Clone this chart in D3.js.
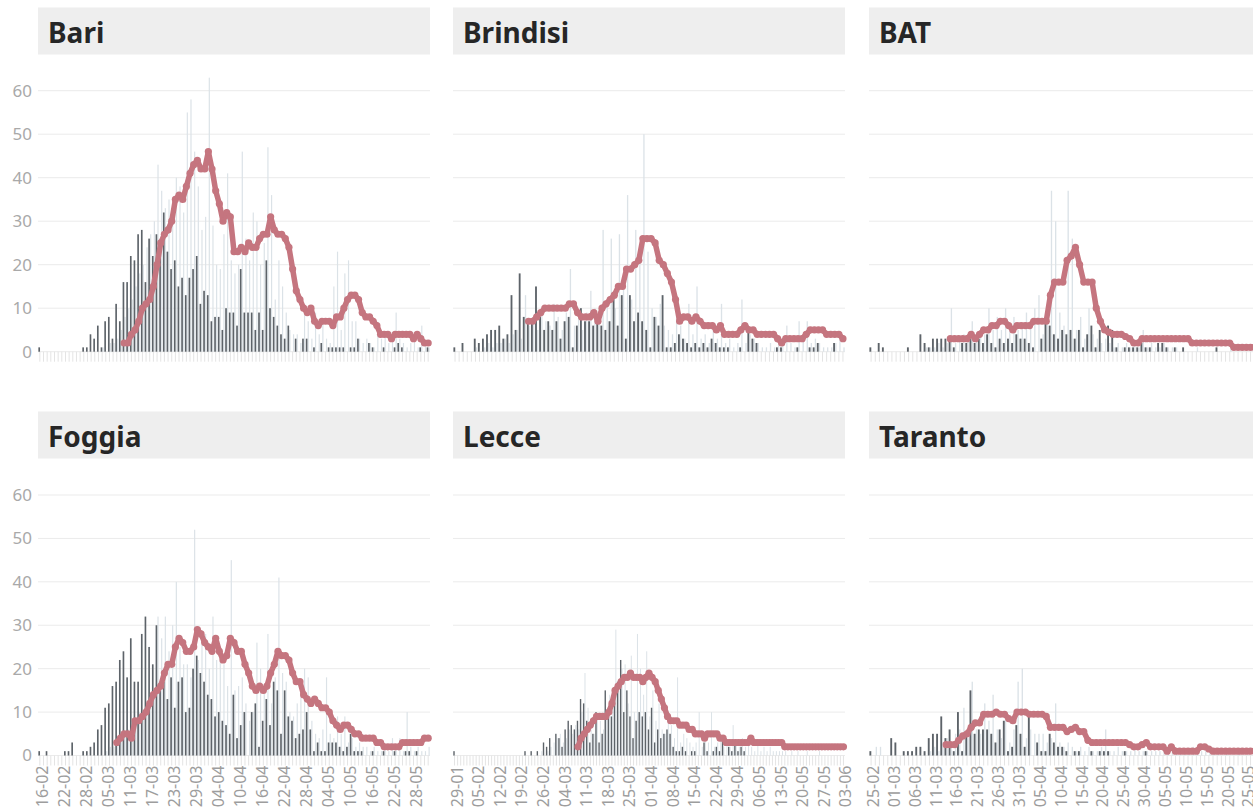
<!DOCTYPE html>
<html><head><meta charset="utf-8">
<script src="https://cdn.jsdelivr.net/npm/d3@7"></script>
<style>
html,body{margin:0;padding:0;background:#fff;overflow:hidden}
svg{display:block}
</style></head><body>
<svg id="chart" width="1253" height="812"></svg>
<script>
// ---------------- DATA ----------------
const provinces = ["Bari","Brindisi","BAT","Foggia","Lecce","Taranto"];
const firstDays = ["2020-02-16","2020-02-29","2020-02-25","2020-02-16","2020-01-29","2020-02-25"];
const lastDays  = ["2020-06-01","2020-06-03","2020-05-28","2020-06-01","2020-06-03","2020-05-28"];
const avgFirstDays = ["2020-03-10","2020-03-18","2020-03-15","2020-03-08","2020-03-09","2020-03-14"];
const labelEvery = [6,6,5,6,7,5];
const yTicks = [0,10,20,30,40,50,60];

const bariDark = [1,0,0,0,0,0,0,0,0,0, 0,0,1,1,4,3,6,1,7,8, 3,11,7,16,16,22,21,27,28,16, 26,22,27,25,32,23,19,21,15,17, 13,17,19,22,11,14,13,7,8,8, 5,10,9,9,6,19,9,9,9,5, 9,5,21,10,8,6,4,3,6,0, 3,0,3,3,0,1,0,2,0,1, 1,1,1,1,0,1,1,3,0,0, 2,1,0,0,1,0,0,1,2,1, 0,0,0,0,1,0,1];
const bariLight = [0,0,0,0,0,0,0,0,0,0, 0,0,0,0,0,0,0,1,0,2, 2,3,5,8,10,12,15,18,20,24, 27,30,43,37,33,35,30,40,38,32, 55,58,46,38,28,31,63,29,20,19, 27,41,21,18,20,46,26,21,32,30, 20,25,47,36,12,21,15,9,5,4, 4,2,10,7,3,9,4,7,3,2, 15,23,5,18,21,7,7,3,2,3, 2,1,6,3,4,2,3,9,3,2, 1,2,3,1,6,2,1];
const bariAvg = [2,2,4,5,7,10,11,12,15,20, 25,27,28,30,35,36,35,38,41,43, 44,42,42,46,42,37,34,30,32,31, 23,23,24,23,25,24,24,26,27,27, 31,28,27,27,26,24,19,14,12,10, 9,10,7,6,7,7,7,6,8,8, 10,12,13,13,12,9,8,8,7,6, 4,4,4,3,4,4,4,4,4,3, 4,3,2,2];

const brindisiDark = [1,0,2,0,0,3,2,3,4,5, 5,6,3,4,13,5,18,8,7,7, 15,8,5,7,5,7,3,7,8,1, 6,10,7,7,6,7,6,5,7,13, 6,13,3,13,7,9,7,5,1,8, 6,13,1,1,2,4,3,2,1,2, 1,2,1,3,2,1,1,1,0,0, 1,0,5,3,2,0,0,0,0,1, 1,0,0,0,1,0,0,1,1,2, 0,0,0,2,0,0];
const brindisiLight = [0,0,0,0,0,1,0,1,2,1, 2,2,3,2,4,5,3,13,6,8, 5,10,7,6,11,8,5,9,19,6, 8,5,9,14,10,8,28,12,26,10, 27,15,36,12,28,22,50,23,10,8, 11,6,5,4,12,6,3,11,4,15, 3,4,2,5,3,11,2,3,1,2, 12,2,4,3,2,1,1,2,1,3, 2,6,2,1,7,3,7,2,3,2, 1,1,1,2,3,1];
const brindisiAvg = [7,7,8,9,10,10,10,10,10,10, 11,11,9,8,8,8,9,7,10,11, 12,13,15,15,19,19,20,21,26,26, 26,25,21,20,18,16,12,7,8,8, 7,8,7,6,6,6,5,6,4,4, 4,4,5,6,5,5,4,4,4,4, 4,3,2,3,3,3,3,3,4,5, 5,5,5,4,4,4,4,3];

const batDark = [1,0,2,1,0,0,0,0,0,1, 0,0,4,2,1,3,3,3,3,3, 1,0,2,2,3,2,3,2,4,2, 1,3,2,3,2,4,3,3,2,1, 0,3,7,6,4,3,5,4,5,3, 5,1,4,6,1,5,0,6,5,1, 0,1,1,1,1,2,1,1,0,2, 2,1,0,1,0,1,0,0,0,0, 0,0,0,1,0,0,0,0,0,0, 0,0,0,0];
const batLight = [0,0,0,0,0,0,0,0,0,0, 0,0,0,1,1,1,2,1,2,10, 2,3,4,3,7,3,5,4,10,5, 8,5,10,6,8,5,6,9,7,10, 13,4,8,37,30,9,6,37,26,5, 8,3,10,4,3,2,3,2,1,2, 1,2,1,2,1,5,1,2,1,1, 2,1,1,1,0,0,0,0,1,0, 0,0,0,0,0,0,1,0,0,0, 0,0,0,0];
const batAvg = [3,3,3,3,3,4,3,4,5,5, 6,6,7,7,6,5,6,6,6,6, 7,7,7,7,13,16,16,16,21,22, 24,20,16,16,16,10,7,5,4.5,4, 4,4,3.5,3,2,2,3,3,3,3, 3,3,3,3,3,3,3,3,2,2, 2,2,2,2,2,2,2,2,1,1, 1,1,1,1,1];

const foggiaDark = [1,0,1,0,0,0,0,1,1,3, 0,0,1,1,2,3,6,7,11,12, 16,17,22,24,18,27,17,17,28,32, 25,21,30,15,17,13,18,11,17,18, 10,11,20,23,19,17,14,13,9,10, 8,7,5,14,4,7,10,0,10,12, 2,8,13,7,17,15,5,15,9,8, 4,5,6,10,6,1,3,1,1,3, 3,3,2,1,2,5,1,1,1,0, 0,1,0,0,1,0,0,1,0,0, 1,1,0,1,0,0,0];
const foggiaLight = [0,0,0,0,0,0,0,0,0,0, 0,0,0,0,0,0,0,0,1,2, 2,3,4,5,6,8,7,10,9,12, 14,15,32,27,32,24,30,40,25,21, 21,18,52,22,26,28,20,32,22,23, 21,16,45,15,16,18,12,8,10,26, 20,15,28,12,18,41,19,17,10,9, 12,16,20,18,8,5,4,6,18,5, 4,9,5,9,3,4,2,3,2,2, 1,2,1,1,2,1,4,2,4,1, 10,2,1,2,1,1,2];
const foggiaAvg = [3,4,5,5,4,8,8,9,10,12, 14,15,16,19,21,21,25,27,26,24, 24,25,29,28,26,25,24,27,24,22, 23,27,26,24,24,21,19,16,15,16, 15,16,19,21,24,23,23,22,19,17, 17,14,13,12,13,12,11,11,10,8, 7,6,7,7,6,5,5,4,4,4, 4,3,3,2,2,2,2,2,3,3, 3,3,3,3,4,4];

const lecceDark = [1,0,0,0,0,0,0,0,0,0, 0,0,0,0,0,0,0,0,0,0, 0,0,0,1,0,1,0,1,0,3, 2,4,0,5,4,2,6,8,7,6, 8,13,12,8,3,5,10,3,5,15, 11,9,13,17,22,10,15,9,4,8, 10,9,10,6,11,3,6,4,5,6, 5,2,1,1,2,1,0,1,1,0, 0,3,1,0,1,2,1,4,0,2, 1,3,1,2,1,0,0,0,0,0, 0,0,0,0,0,0,0,0,0,0, 0,0,0,0,0,0,0,0,0,0, 0,0,0,0,0,0,0];
const lecceLight = [0,0,0,0,0,0,0,0,0,0, 0,0,0,0,0,0,0,0,0,0, 0,0,0,0,0,0,0,0,1,0, 1,2,3,4,5,3,4,6,5,7, 6,10,19,11,6,5,9,8,6,10, 14,12,29,15,20,21,12,23,10,28, 20,14,24,9,15,8,12,6,5,10, 7,4,18,3,5,4,3,2,3,10, 2,4,3,10,2,3,4,2,3,2, 7,3,2,4,2,3,2,1,3,1, 2,1,2,1,1,1,1,1,0,1, 0,1,0,0,1,0,0,0,1,0, 0,0,0,0,0,0,0];
const lecceAvg = [2,4,5,6,7,8,9,9,9,9, 10,12,15,16,17,18,18,19,18,18, 18,17,18,19,18,17,15,13,11,9, 8,8,8,7,7,7,6,6,5,5, 5,4,5,5,5,5,4,4,3,3, 3,3,3,3,3,3,4,3,3,3, 3,3,3,3,3,3,3,2,2,2, 2,2,2,2,2,2,2,2,2,2, 2,2,2,2,2,2,2];

const tarantoDark = [1,0,0,0,0,4,3,0,1,1, 1,2,2,1,4,5,5,9,4,6, 1,10,1,5,15,5,6,6,6,5, 3,6,8,1,2,7,5,2,9,0, 3,1,1,5,3,2,2,1,0,1, 1,0,0,1,0,1,1,1,0,0, 0,1,0,0,0,0,1,0,0,0, 0,0,0,0,0,0,0,0,0,0, 0,0,0,0,0,0,0,0,0,0, 0,0,0,0];
const tarantoLight = [0,2,2,0,0,0,0,0,0,0, 0,0,0,0,1,2,1,3,4,2, 5,6,11,4,17,6,5,12,8,14, 6,4,9,3,6,17,20,4,6,5, 5,5,3,4,12,3,2,3,2,1, 2,1,2,1,1,2,6,1,1,2, 1,1,1,2,1,1,1,1,1,1, 2,1,1,1,1,1,1,2,1,1, 1,1,1,1,0,1,0,0,1,0, 0,0,0,0];
const tarantoAvg = [2.5,2.5,2.5,3.5,4.5,5,6.5,7.5,7.5,9.5, 9.5,9.5,10,9.5,9.5,8.5,8,10,10,10, 9.5,9.5,9.5,9.5,9,6.5,6.5,6.5,6.5,5.5, 6,6.5,5.5,5.5,3.5,3,3,3,3,3, 3,3,3,3,2.5,2,2,2.5,3,2, 2,2,2,1,2,1,1,1,1,1, 1,2,2,1.5,1,1,1,1,1,1, 1,1,1,1,1,1];

const darkSeries  = [bariDark, brindisiDark, batDark, foggiaDark, lecceDark, tarantoDark];
const lightSeries = [bariLight, brindisiLight, batLight, foggiaLight, lecceLight, tarantoLight];
const avgSeries   = [bariAvg, brindisiAvg, batAvg, foggiaAvg, lecceAvg, tarantoAvg];

// ---------------- LAYOUT / STYLE ----------------
const COLORS = {title:"#eeeeee", titleText:"#262626", grid:"#ebebeb", yText:"#a9a9a9",
  tick:"#e4e4e4", xText:"#9d9d9d", dark:"#5d6369", light:"#dbe2e7", line:"#c5757f"};
const colRanges = [[38,430],[453,845],[869,1261]];
const rowGeo = [
  {titleTop:7.5, titleH:47, base:43, y0:351.7, y60:90.7},
  {titleTop:411.5, titleH:47, base:446.5, y0:755.5, y60:495}
];

const svg = d3.select("#chart");
const parse = d3.utcParse("%Y-%m-%d");
const fmt = d3.utcFormat("%d-%m");
const FONT = "'Noto Sans', 'Open Sans', sans-serif";

provinces.forEach((name, k) => {
  const col = k % 3, row = Math.floor(k / 3);
  const [x0, x1] = colRanges[col];
  const g = rowGeo[row];
  const start = parse(firstDays[k]);
  const days = d3.utcDay.range(start, d3.utcDay.offset(parse(lastDays[k]), 1));
  const keys = days.map(fmt);
  const x = d3.scaleBand().domain(keys).range([x0, x1]);
  const y = d3.scaleLinear().domain([0, 60]).range([g.y0, g.y60]);
  const bw = x.bandwidth();
  const panel = svg.append("g").attr("class", "panel");

  // title bar
  panel.append("rect").attr("x", x0).attr("y", g.titleTop)
    .attr("width", x1 - x0).attr("height", g.titleH).attr("fill", COLORS.title);
  panel.append("text").attr("x", x0 + 10).attr("y", g.base).text(name)
    .attr("font-family", FONT).attr("font-weight", 700).attr("font-size", 28)
    .attr("fill", COLORS.titleText);

  // gridlines
  panel.append("g").selectAll("line").data(yTicks).join("line")
    .attr("x1", x0).attr("x2", x1)
    .attr("y1", d => y(d)).attr("y2", d => y(d))
    .attr("stroke", COLORS.grid).attr("stroke-width", 1);

  // y labels (left column only)
  if (col === 0) {
    panel.append("g").selectAll("text").data(yTicks).join("text")
      .attr("x", 32).attr("y", d => y(d)).attr("dy", "0.35em")
      .attr("text-anchor", "end").attr("font-family", FONT)
      .attr("font-size", 17).attr("fill", COLORS.yText).text(d => d);
  }

  // x axis: one tick per day
  const axG = panel.append("g").attr("transform", `translate(0,${g.y0})`)
    .call(d3.axisBottom(x).tickSize(10).tickFormat(""));
  axG.select(".domain").remove();
  axG.selectAll("line").attr("stroke", COLORS.tick).attr("stroke-width", 1);

  // x labels (bottom row)
  if (row === 1) {
    const step = labelEvery[k];
    const lbl = keys.filter((d, i) => i % step === 0);
    panel.append("g").selectAll("text").data(lbl).join("text")
      .attr("transform", d => `translate(${x(d) + bw / 2},${g.y0 + 10}) rotate(-90)`)
      .attr("text-anchor", "end").attr("dy", "0.5em")
      .attr("font-family", FONT).attr("font-size", 16)
      .attr("fill", COLORS.xText).text(d => d);
  }

  // bars
  const lightData = keys.map((d, i) => ({d, v: lightSeries[k][i] || 0})).filter(o => o.v > 0);
  const darkData = keys.map((d, i) => ({d, v: darkSeries[k][i] || 0})).filter(o => o.v > 0);
  panel.append("g").selectAll("rect").data(lightData).join("rect")
    .attr("x", o => x(o.d) + bw * 0.6).attr("width", bw * 0.32)
    .attr("y", o => y(o.v)).attr("height", o => y(0) - y(o.v))
    .attr("fill", COLORS.light);
  panel.append("g").selectAll("rect").data(darkData).join("rect")
    .attr("x", o => x(o.d) + bw * 0.1).attr("width", bw * 0.45)
    .attr("y", o => y(o.v)).attr("height", o => y(0) - y(o.v))
    .attr("fill", COLORS.dark);

  // moving average line
  const off = d3.utcDay.count(start, parse(avgFirstDays[k]));
  const avgData = avgSeries[k].map((v, j) => ({d: keys[off + j], v})).filter(o => o.d !== undefined);
  const line = d3.line().x(o => x(o.d) + bw / 2).y(o => y(o.v));
  panel.append("path").datum(avgData).attr("d", line)
    .attr("fill", "none").attr("stroke", COLORS.line).attr("stroke-width", 5.5)
    .attr("stroke-linejoin", "round").attr("stroke-linecap", "round");
  panel.append("g").selectAll("circle").data(avgData).join("circle")
    .attr("cx", o => x(o.d) + bw / 2).attr("cy", o => y(o.v)).attr("r", 3.6)
    .attr("fill", COLORS.line);
});
</script>
</body></html>
